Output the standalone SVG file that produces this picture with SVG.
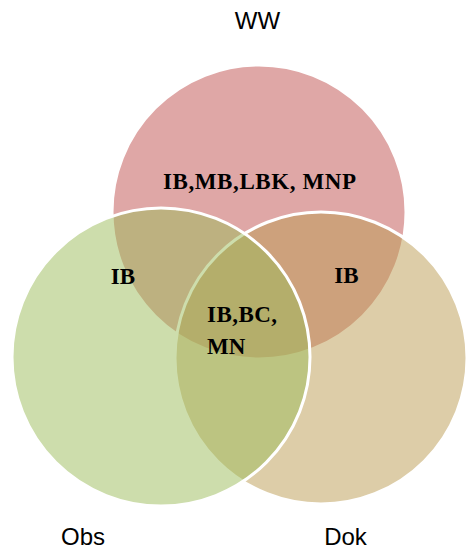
<svg xmlns="http://www.w3.org/2000/svg" width="466" height="550" viewBox="0 0 466 550">
<style>
.c{stroke:#fff;stroke-width:3;fill-opacity:0.5}
.t{font-family:"Liberation Serif","Times New Roman",serif;font-weight:bold;font-size:23px;fill:#000}
.l{font-family:"Liberation Sans",Arial,sans-serif;font-size:24px;fill:#000;text-anchor:middle}
</style>
<rect width="466" height="550" fill="#fff"/>
<g id="ww"><circle class="c" cx="259" cy="212" r="147" fill="#C0504D"/></g>
<g id="dok"><circle class="c" cx="321" cy="358" r="146" fill="#BB9B51"/></g>
<g id="obs"><circle class="c" cx="161" cy="357" r="149" fill="#9BBB59"/></g>
<g id="texts">
<text class="t" x="163" y="189" textLength="193" lengthAdjust="spacing">IB,MB,LBK, MNP</text>
<text class="t" x="123" y="284" text-anchor="middle">IB</text>
<text class="t" x="346.5" y="283" text-anchor="middle">IB</text>
<text class="t" x="207" y="322" textLength="70" lengthAdjust="spacing">IB,BC,</text>
<text class="t" x="207" y="354">MN</text>
</g>
<g id="labels">
<text class="l" x="257.5" y="29">WW</text>
<text class="l" x="83" y="545">Obs</text>
<text class="l" x="345.5" y="545">Dok</text>
</g>
<g id="connectors"/>
</svg>
